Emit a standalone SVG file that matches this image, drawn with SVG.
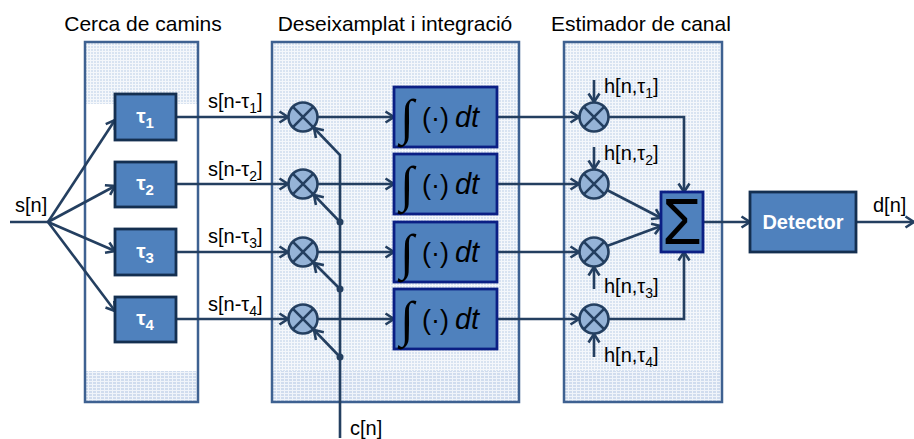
<svg xmlns="http://www.w3.org/2000/svg" width="914" height="439" viewBox="0 0 914 439">
  <defs>
    <!-- fine checked fill used inside the stage panels -->
    <pattern id="grid" width="3" height="3" patternUnits="userSpaceOnUse">
      <rect width="3" height="3" fill="#D8E3F1"/>
      <path d="M0,0.5H3M0.5,0V3" stroke="#F4F7FB" stroke-width="1"/>
    </pattern>
    <pattern id="band" width="4" height="3" patternUnits="userSpaceOnUse">
      <rect width="4" height="3" fill="#D0DCEE"/>
      <path d="M0,0.5H4M0.5,0V3" stroke="#F0F4FA" stroke-width="1"/>
    </pattern>
    <marker id="arr" markerUnits="userSpaceOnUse" markerWidth="14" markerHeight="14" viewBox="0 0 14 14" refX="11" refY="7" orient="auto">
      <path d="M2.5,1.5 L11,7 L2.5,12.5" fill="none" stroke="#243F60" stroke-width="2.6" stroke-linejoin="miter"/>
    </marker>
    <style>
      .title { font-family: "Liberation Sans", Arial, sans-serif; font-size: 21px; fill: #000; text-anchor: middle; }
      .lbl { font-family: "Liberation Sans", Arial, sans-serif; font-size: 20px; fill: #000; }
      .sub { font-size: 14px; }
      .panel { stroke: #3E6191; stroke-width: 2.5; }
      .wire { fill: none; stroke: #243F60; stroke-width: 2.6; }
      .arrow { marker-end: url(#arr); }
      .delay { fill: #4F81BD; stroke: #142F50; stroke-width: 2.8; }
      .integ { fill: #4F81BD; stroke: #0B1F84; stroke-width: 2.8; }
      .mult circle { fill: #95B3D7; stroke: #243F60; stroke-width: 2.6; }
      .mult path { stroke: #243F60; stroke-width: 2.6; fill: none; }
      .wtxt { font-family: "Liberation Sans", Arial, sans-serif; font-weight: bold; fill: #fff; text-anchor: middle; }
      .math { font-family: "Liberation Sans", Arial, sans-serif; fill: #000; }
      .intg { font-family: "Liberation Serif", "DejaVu Serif", serif; font-size: 50px; fill: #000; }
      .dot { fill: #243F60; }
    </style>
  </defs>

  <rect width="914" height="439" fill="#fff"/>

  <!-- stage panels -->
  <g id="panel-paths">
    <rect x="85" y="42" width="113" height="62" fill="url(#grid)"/>
    <rect x="85" y="371" width="113" height="31" fill="url(#band)"/>
    <rect x="85" y="42" width="113" height="360" fill="none" class="panel"/>
    <text class="title" x="143" y="31">Cerca de camins</text>
  </g>
  <g id="panel-despread">
    <rect x="272" y="42" width="247" height="329" fill="url(#grid)"/>
    <rect x="272" y="371" width="247" height="31" fill="url(#band)"/>
    <rect x="272" y="42" width="247" height="360" fill="none" class="panel"/>
    <text class="title" x="395" y="31">Deseixamplat i integració</text>
  </g>
  <g id="panel-channel">
    <rect x="564" y="42" width="158" height="329" fill="url(#grid)"/>
    <rect x="564" y="371" width="158" height="31" fill="url(#band)"/>
    <rect x="564" y="42" width="158" height="360" fill="none" class="panel"/>
    <text class="title" x="641" y="31">Estimador de canal</text>
  </g>

  <!-- connectors -->
  <g id="connectors">
    <path class="wire" d="M10,222H48"/>
    <path class="wire arrow" d="M48,222L115,120"/>
    <path class="wire arrow" d="M48,222L115,186"/>
    <path class="wire arrow" d="M48,222L115,251"/>
    <path class="wire arrow" d="M48,222L115,311"/>

    <path class="wire arrow" d="M176,117H288"/>
    <path class="wire arrow" d="M176,184H288"/>
    <path class="wire arrow" d="M176,252H288"/>
    <path class="wire arrow" d="M176,319H288"/>

    <path class="wire arrow" d="M318,117H394"/>
    <path class="wire arrow" d="M318,184H394"/>
    <path class="wire arrow" d="M318,252H394"/>
    <path class="wire arrow" d="M318,319H394"/>

    <!-- spreading code bus and its taps -->
    <path class="wire arrow" d="M340,438V155L314,128"/>
    <path class="wire arrow" d="M340,222L314,195"/>
    <path class="wire arrow" d="M340,289L314,263"/>
    <path class="wire arrow" d="M340,357L314,330"/>
    <circle class="dot" cx="340" cy="222" r="3.5"/>
    <circle class="dot" cx="340" cy="289" r="3.5"/>
    <circle class="dot" cx="340" cy="357" r="3.5"/>

    <path class="wire arrow" d="M497,117H579"/>
    <path class="wire arrow" d="M497,184H579"/>
    <path class="wire arrow" d="M497,252H579"/>
    <path class="wire arrow" d="M497,319H579"/>

    <!-- channel coefficients -->
    <path class="wire arrow" d="M594,80V102"/>
    <path class="wire arrow" d="M594,147V169"/>
    <path class="wire arrow" d="M594,289V267"/>
    <path class="wire arrow" d="M594,357V334"/>

    <path class="wire arrow" d="M609,117H684V192"/>
    <path class="wire arrow" d="M607,190L661,218"/>
    <path class="wire arrow" d="M607,246L661,226"/>
    <path class="wire arrow" d="M609,319H684V252"/>

    <path class="wire arrow" d="M703,222H750"/>
    <path class="wire arrow" d="M856,222H914"/>
  </g>

  <!-- signal labels -->
  <g id="labels">
    <text class="lbl" x="15" y="212">s[n]</text>
    <text class="lbl" x="208" y="108">s[n-τ<tspan class="sub" dy="5">1</tspan><tspan dy="-5">]</tspan></text>
    <text class="lbl" x="208" y="176">s[n-τ<tspan class="sub" dy="5">2</tspan><tspan dy="-5">]</tspan></text>
    <text class="lbl" x="208" y="243">s[n-τ<tspan class="sub" dy="5">3</tspan><tspan dy="-5">]</tspan></text>
    <text class="lbl" x="208" y="311">s[n-τ<tspan class="sub" dy="5">4</tspan><tspan dy="-5">]</tspan></text>
    <text class="lbl" x="604" y="93">h[n,τ<tspan class="sub" dy="5">1</tspan><tspan dy="-5">]</tspan></text>
    <text class="lbl" x="604" y="160">h[n,τ<tspan class="sub" dy="5">2</tspan><tspan dy="-5">]</tspan></text>
    <text class="lbl" x="604" y="293">h[n,τ<tspan class="sub" dy="5">3</tspan><tspan dy="-5">]</tspan></text>
    <text class="lbl" x="604" y="362">h[n,τ<tspan class="sub" dy="5">4</tspan><tspan dy="-5">]</tspan></text>
    <text class="lbl" x="350" y="435">c[n]</text>
    <text class="lbl" x="873" y="212">d[n]</text>
  </g>

  <!-- path delays -->
  <g id="delay1"><rect class="delay" x="115" y="94" width="61" height="46"/><text class="wtxt" x="145" y="123" font-size="21">τ<tspan font-size="15" dy="5">1</tspan></text></g>
  <g id="delay2"><rect class="delay" x="115" y="162" width="61" height="45"/><text class="wtxt" x="145" y="190" font-size="21">τ<tspan font-size="15" dy="5">2</tspan></text></g>
  <g id="delay3"><rect class="delay" x="115" y="229" width="61" height="46"/><text class="wtxt" x="145" y="258" font-size="21">τ<tspan font-size="15" dy="5">3</tspan></text></g>
  <g id="delay4"><rect class="delay" x="115" y="297" width="61" height="45"/><text class="wtxt" x="145" y="325" font-size="21">τ<tspan font-size="15" dy="5">4</tspan></text></g>

  <!-- despreading multipliers -->
  <g id="mix1" class="mult"><circle cx="303" cy="117" r="14.5"/><path d="M292.7,106.7L313.3,127.3M313.3,106.7L292.7,127.3"/></g>
  <g id="mix2" class="mult"><circle cx="303" cy="184" r="14.5"/><path d="M292.7,173.7L313.3,194.3M313.3,173.7L292.7,194.3"/></g>
  <g id="mix3" class="mult"><circle cx="303" cy="252" r="14.5"/><path d="M292.7,241.7L313.3,262.3M313.3,241.7L292.7,262.3"/></g>
  <g id="mix4" class="mult"><circle cx="303" cy="319" r="14.5"/><path d="M292.7,308.7L313.3,329.3M313.3,308.7L292.7,329.3"/></g>

  <!-- integrators -->
  <g id="int1"><rect class="integ" x="394" y="87" width="103" height="60"/><text class="intg" x="400" y="134">∫</text><text class="math" x="422" y="127" font-size="27">(·)<tspan font-style="italic" dx="6" font-size="29">dt</tspan></text></g>
  <g id="int2"><rect class="integ" x="394" y="154" width="103" height="60"/><text class="intg" x="400" y="201">∫</text><text class="math" x="422" y="194" font-size="27">(·)<tspan font-style="italic" dx="6" font-size="29">dt</tspan></text></g>
  <g id="int3"><rect class="integ" x="394" y="222" width="103" height="60"/><text class="intg" x="400" y="269">∫</text><text class="math" x="422" y="262" font-size="27">(·)<tspan font-style="italic" dx="6" font-size="29">dt</tspan></text></g>
  <g id="int4"><rect class="integ" x="394" y="289" width="103" height="60"/><text class="intg" x="400" y="336">∫</text><text class="math" x="422" y="329" font-size="27">(·)<tspan font-style="italic" dx="6" font-size="29">dt</tspan></text></g>

  <!-- channel weighting multipliers -->
  <g id="wmix1" class="mult"><circle cx="594" cy="117" r="14.5"/><path d="M583.7,106.7L604.3,127.3M604.3,106.7L583.7,127.3"/></g>
  <g id="wmix2" class="mult"><circle cx="594" cy="184" r="14.5"/><path d="M583.7,173.7L604.3,194.3M604.3,173.7L583.7,194.3"/></g>
  <g id="wmix3" class="mult"><circle cx="594" cy="252" r="14.5"/><path d="M583.7,241.7L604.3,262.3M604.3,241.7L583.7,262.3"/></g>
  <g id="wmix4" class="mult"><circle cx="594" cy="319" r="14.5"/><path d="M583.7,308.7L604.3,329.3M604.3,308.7L583.7,329.3"/></g>

  <!-- combiner -->
  <g id="sum"><rect class="integ" x="661" y="192" width="42" height="60"/><text class="math" x="682" y="244" font-size="64" font-family="Liberation Serif" text-anchor="middle">Σ</text></g>

  <!-- decision -->
  <g id="detector"><rect class="delay" x="750" y="192" width="106" height="60"/><text class="wtxt" x="803" y="229" font-size="20">Detector</text></g>
</svg>
